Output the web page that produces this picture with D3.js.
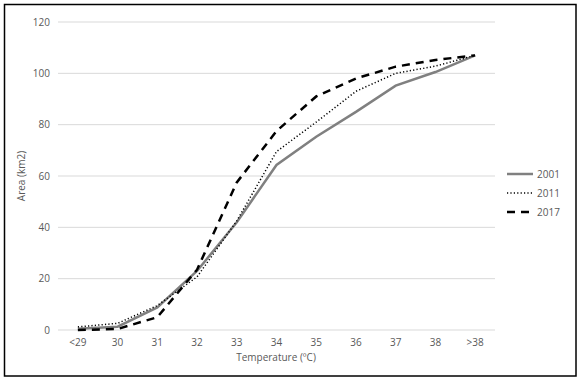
<!DOCTYPE html>
<html><head><meta charset="utf-8">
<script src="https://cdn.jsdelivr.net/npm/d3@7"></script>
<style>
html,body{margin:0;padding:0;background:#fff;}
text{font-family:"Open Sans","Noto Sans",sans-serif;}
</style></head>
<body>
<svg id="c" width="581" height="382"></svg>
<script>
const categories = ["<29","30","31","32","33","34","35","36","37","38",">38"];
const s2001 = [0.5,1.3,8.8,23,42,64.3,75.3,85,95.2,100.5,107];
const s2011 = [1.2,2.6,9.5,20.7,42.5,69.5,81,93,100,102.8,107];
const s2017 = [0,0.4,5,23.5,57.5,77.5,91,98,102.6,105.2,107];
const yTicks = [0,20,40,60,80,100,120];
const seriesNames = ["2001","2011","2017"];

const svg = d3.select("#c");
svg.append("rect").attr("x",4.5).attr("y",4.5).attr("width",571.5).attr("height",371.5)
  .attr("fill","#fff").attr("stroke","#000").attr("stroke-width",1.5);

const x = d3.scaleBand().domain(categories).range([58,495]);
const y = d3.scaleLinear().domain([0,120]).range([330,22]);

// gridlines
svg.append("g").selectAll("line").data(yTicks).join("line")
  .attr("x1",58).attr("x2",495).attr("y1",d=>y(d)).attr("y2",d=>y(d))
  .attr("stroke","#d9d9d9").attr("stroke-width",1);

// y axis labels
const yAxis = d3.axisLeft(y).tickValues(yTicks).tickSize(0).tickPadding(8);
const gy = svg.append("g").attr("transform","translate(58,0)").call(yAxis);
gy.select(".domain").remove();
gy.selectAll("text").attr("fill","#595959").style("font-size","10px");

const xAxis = d3.axisBottom(x).tickSize(0).tickPadding(9);
const gx = svg.append("g").attr("transform","translate(0,330)").call(xAxis);
gx.select(".domain").remove();
gx.selectAll("text").attr("fill","#595959").style("font-size","10px");

svg.append("text").attr("x",276).attr("y",361).attr("text-anchor","middle")
  .attr("fill","#595959").style("font-size","10px").text("Temperature (ºC)");
svg.append("text").attr("transform","translate(25,176) rotate(-90)").attr("text-anchor","middle")
  .attr("fill","#595959").style("font-size","10px").text("Area (km2)");

const styles = [
  {stroke:"#808080", w:2.5, dash:null},
  {stroke:"#000", w:1.5, dash:"1.2,2.2"},
  {stroke:"#000", w:2.5, dash:"8,6"}
];
const data = [s2001,s2011,s2017];
const line = d3.line().x((d,i)=>x(categories[i])+x.bandwidth()/2).y(d=>y(d));
data.forEach((s,k)=>{
  svg.append("path").datum(s).attr("d",line).attr("fill","none")
    .attr("stroke",styles[k].stroke).attr("stroke-width",styles[k].w)
    .attr("stroke-dasharray",styles[k].dash);
});

// legend
seriesNames.forEach((n,k)=>{
  const ly = 174 + k*19;
  svg.append("line").attr("x1",507).attr("x2",533).attr("y1",ly).attr("y2",ly)
    .attr("stroke",styles[k].stroke).attr("stroke-width",styles[k].w)
    .attr("stroke-dasharray",styles[k].dash);
  svg.append("text").attr("x",537).attr("y",ly+3.5).attr("fill","#595959")
    .style("font-size","10px").text(n);
});
</script>
</body></html>
